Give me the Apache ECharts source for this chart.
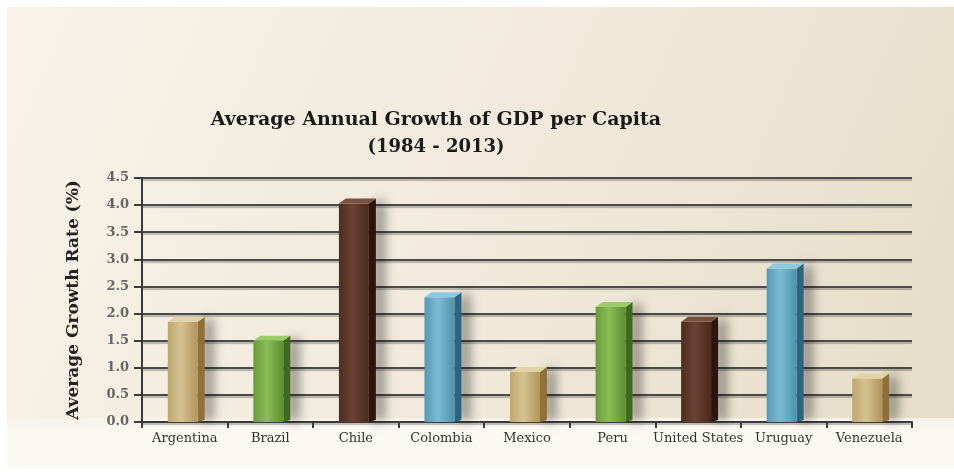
<!DOCTYPE html>
<html><head><meta charset="utf-8">
<script src="https://cdn.jsdelivr.net/npm/echarts@6/dist/echarts.min.js"></script>
<style>html,body{margin:0;padding:0;background:#fff}#c{width:954px;height:472px}</style>
</head><body><div id="c"></div>
<script>
const categories = ['Argentina','Brazil','Chile','Colombia','Mexico','Peru','United States','Uruguay','Venezuela'];
const growthValues = [1.85, 1.5, 4.03, 2.3, 0.92, 2.12, 1.85, 2.83, 0.8];
const yTicks = [0, 0.5, 1.0, 1.5, 2.0, 2.5, 3.0, 3.5, 4.0, 4.5];
const titleText = 'Average Annual Growth of GDP per Capita';
const subtitleText = '(1984 - 2013)';
const yAxisName = 'Average Growth Rate (%)';

const palettes = [
  {l:'#bfa66f', m:'#d6c291', r:'#b0955c', side:'#8e7038', top:'#e2d3a6'},
  {l:'#6a9a3a', m:'#8abd55', r:'#5f8d31', side:'#3f6a1e', top:'#9ccc66'},
  {l:'#4f2d20', m:'#6b4333', r:'#4a291c', side:'#2b150d', top:'#7a5040'},
  {l:'#5499b6', m:'#7dbad2', r:'#4f92ae', side:'#2b6680', top:'#8ccae0'}
];
const paletteIndex = [0,1,2,3,0,1,2,3,0];

const chart = echarts.init(document.getElementById('c'), null, {renderer:'canvas'});
const font = '"DejaVu Serif", serif';

chart.setOption({
  animation: false,
  backgroundColor: '#ffffff',
  graphic: [
    {type:'rect', z:-10, silent:true, shape:{x:7,y:7,width:947,height:411},
     style:{fill:new echarts.graphic.LinearGradient(0,0,1,1,[
       {offset:0,color:'#f8f3e9'},{offset:0.5,color:'#f1eadc'},{offset:1,color:'#e6ddc8'}])}},
    {type:'rect', z:-10, silent:true, shape:{x:7,y:418,width:947,height:51},
     style:{fill:new echarts.graphic.LinearGradient(0,0,0,1,[
       {offset:0,color:'#f6f2e8'},{offset:0.2,color:'#faf8f2'},{offset:1,color:'#fbf9f4'}])}},
    {type:'text', silent:true, style:{x:436, y:111, text:titleText, font:'bold 19px ' + font, fill:'#1a1a1a', align:'center', textAlign:'center'}},
    {type:'text', silent:true, style:{x:436, y:138, text:subtitleText, font:'bold 18px ' + font, fill:'#1a1a1a', align:'center', textAlign:'center'}}
  ],
  grid: {left:142, right:42, top:178, bottom:50},
  xAxis: {
    type:'category', data:categories, boundaryGap:true,
    axisLine:{lineStyle:{color:'#3a3a3a', width:2}},
    axisTick:{show:true, length:6, lineStyle:{color:'#3a3a3a', width:2}},
    axisLabel:{color:'#333', fontFamily:font, fontSize:13, margin:10, interval:0}
  },
  yAxis: {
    type:'value', min:0, max:4.5, interval:0.5,
    name:yAxisName, nameLocation:'middle', nameGap:60,
    nameTextStyle:{fontFamily:font, fontWeight:'bold', fontSize:17, color:'#222'},
    axisLine:{show:true, lineStyle:{color:'#3a3a3a', width:2}},
    axisTick:{show:true, length:8, lineStyle:{color:'#3a3a3a', width:2}},
    axisLabel:{color:'#666', fontFamily:font, fontSize:13, fontWeight:'bold', margin:13,
      formatter: v => { const t = yTicks.find(x => Math.abs(x - v) < 1e-9); return (t===undefined?v:t).toFixed(1); }},
    splitLine:{show:true, lineStyle:{color:'#4a4a4a', width:2, shadowColor:'rgba(0,0,0,0.25)', shadowOffsetY:2, shadowBlur:1}}
  },
  series: [{
    type:'custom',
    data: growthValues.map((v,i)=>[i,v]),
    renderItem: function(params, api){
      const i = api.value(0), v = api.value(1);
      const base = api.coord([i,0]);
      const top = api.coord([i,v]);
      const bw = api.size([1,0])[0];
      const w = bw*0.35, dx = 7, dy = 5;
      const x0 = base[0] - w/2 - 2;
      const p = palettes[paletteIndex[i]];
      const grad = new echarts.graphic.LinearGradient(0,0,1,0,[
        {offset:0,color:p.l},{offset:0.45,color:p.m},{offset:1,color:p.r}]);
      return {type:'group', children:[
        {type:'polygon', shape:{points:[[x0+w,top[1]],[x0+w+dx,top[1]-dy],[x0+w+dx,base[1]-2],[x0+w,base[1]]]},
         style:{fill:p.side, shadowColor:'rgba(0,0,0,0.6)', shadowBlur:12, shadowOffsetX:7, shadowOffsetY:0}},
        {type:'rect', shape:{x:x0, y:top[1], width:w, height:base[1]-top[1]}, style:{fill:grad}},
        {type:'polygon', shape:{points:[[x0,top[1]],[x0+dx,top[1]-dy],[x0+w+dx,top[1]-dy],[x0+w,top[1]]]},
         style:{fill:p.top}}
      ]};
    }
  }]
});
</script></body></html>
